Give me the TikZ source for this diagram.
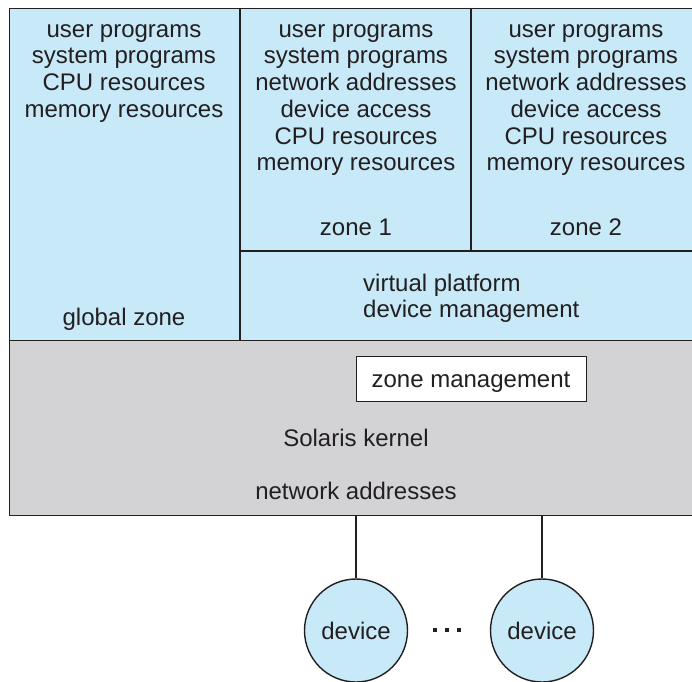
\documentclass[tikz,border=0pt]{standalone}
\usepackage{fontspec}
\setmainfont{Liberation Sans}
\definecolor{zoneblue}{RGB}{199,233,248}
\definecolor{kgray}{RGB}{211,211,213}
\definecolor{ink}{RGB}{35,31,32}
\newcommand{\firststrut}{\rule{0pt}{18pt}}
\begin{document}
\begin{tikzpicture}[x=1pt,y=-1pt,
  lbl/.style={inner sep=0pt,align=center,text=ink,font=\fontsize{24}{26.7}\selectfont},
  multi/.style={lbl,anchor=north},
  single/.style={lbl,anchor=base},
  region/.style={draw=ink,line width=1.4pt,anchor=north west,inner sep=0pt},
  devnode/.style={circle,draw=ink,line width=1.4pt,fill=zoneblue,minimum size=103pt,inner sep=0pt,text=ink,font=\fontsize{24}{26}\selectfont},
  wire/.style={draw=ink,line width=1.6pt},
  divider/.style={draw=ink,line width=1.4pt},
  dotmark/.style={fill=ink,inner sep=0pt,minimum size=4.5pt,rectangle}]
\useasboundingbox (0,0) rectangle (692,681);
% regions
\node[region,fill=zoneblue,minimum width=691pt,minimum height=332pt] (top) at (9,8) {};
\node[region,fill=kgray,minimum width=691pt,minimum height=175pt] (kernel) at (9,340) {};
\coordinate (c1t) at (240,8);
\coordinate (c1b) at (240,340);
\coordinate (hl) at (240,251);
\coordinate (hr) at (700,251);
\coordinate (c2t) at (471,8);
\coordinate (c2b) at (471,251);
\draw[divider] (c1t) -- (c1b);
\draw[divider] (hl) -- (hr);
\draw[divider] (c2t) -- (c2b);
\node[region,fill=white,minimum width=230pt,minimum height=45pt] (zm) at (356,356) {};
% texts (first baselines at y=37)
\node[multi] (g1) at (124,19) {\firststrut user programs\\system programs\\CPU resources\\memory resources};
\node[single] (g2) at (124,325) {global zone};
\node[multi] (z1) at (356,19) {\firststrut user programs\\system programs\\network addresses\\device access\\CPU resources\\memory resources};
\node[single] (z1n) at (356,235) {zone 1};
\node[multi] (z2) at (586,19) {\firststrut user programs\\system programs\\network addresses\\device access\\CPU resources\\memory resources};
\node[single] (z2n) at (586,235) {zone 2};
\node[single,anchor=base west] (vp1) at (363,291) {virtual platform};
\node[single,anchor=base west] (vp2) at (363,317) {device management};
\node[single] (zmt) at (471,387) {zone management};
\node[single] (sk) at (356,446) {Solaris kernel};
\node[single] (na) at (356,499) {network addresses};
% devices
\node[devnode] (d1) at (356,630.5) {device};
\node[devnode] (d2) at (542,630.5) {device};
\node[dotmark] (dot1) at (435,630) {};
\node[dotmark] (dot2) at (447,630) {};
\node[dotmark] (dot3) at (459,630) {};
\draw[wire] (d1.north) -- (d1.north |- kernel.south);
\draw[wire] (d2.north) -- (d2.north |- kernel.south);
\end{tikzpicture}
\end{document}
